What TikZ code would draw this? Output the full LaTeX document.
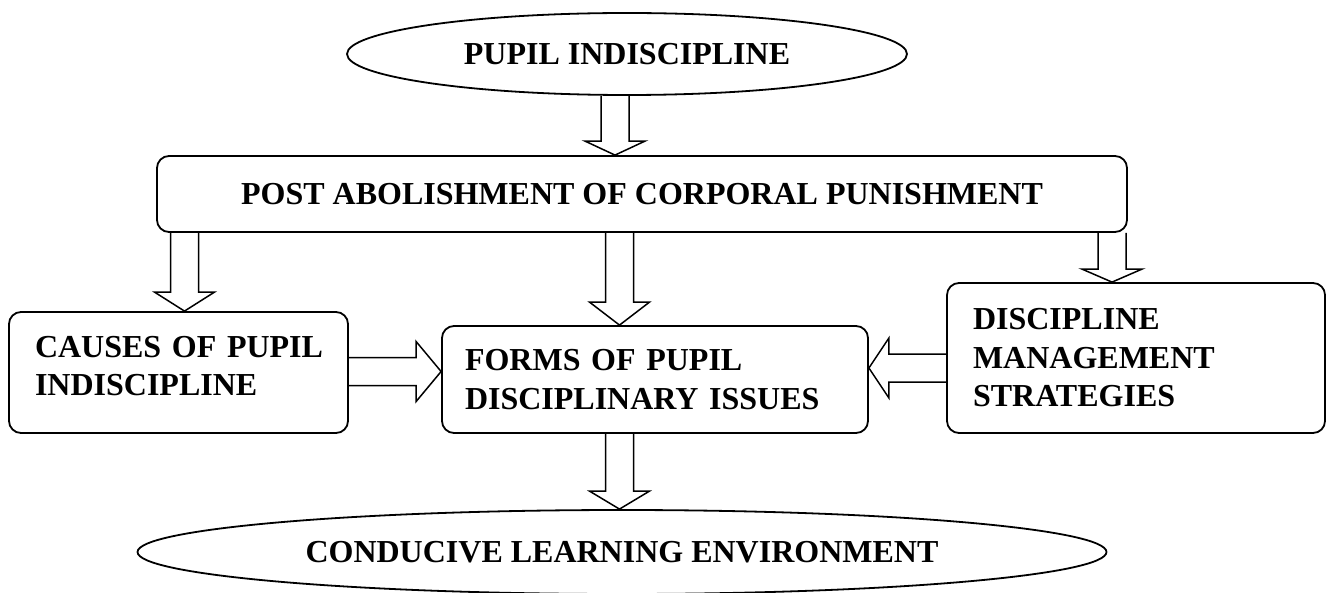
\documentclass[tikz,border=0pt]{standalone}
\usepackage{fontspec}
\setmainfont{Liberation Serif}
\usetikzlibrary{shapes.geometric,calc}

\tikzset{
  oval/.style={ellipse, draw, line width=0.9pt, inner sep=0pt},
  boxnode/.style={draw, rounded corners=6pt, line width=0.9pt, inner ysep=0pt},
  hollow/.style={line width=0.75pt, line join=miter},
}
% hollow block arrows: #1 start, #2 tip, #3 head length
\newcommand{\hollowdown}[3]{%
  \draw[hollow] let \p1=(#1), \p2=(#2) in
    (\x2-7pt,\y1) -- (\x2-7pt,\y2+#3) -- (\x2-15pt,\y2+#3) -- (\x2,\y2)
    -- (\x2+15pt,\y2+#3) -- (\x2+7pt,\y2+#3) -- (\x2+7pt,\y1);}
\newcommand{\hollowside}[3]{%
  \draw[hollow] let \p1=(#1), \p2=(#2), \n1={#3} in
    (\x1,\y2+7pt) -- (\x2-\n1,\y2+7pt) -- (\x2-\n1,\y2+15pt) -- (\x2,\y2)
    -- (\x2-\n1,\y2-15pt) -- (\x2-\n1,\y2-7pt) -- (\x1,\y2-7pt);}

\begin{document}
\begin{tikzpicture}[x=0.5pt, y=-0.5pt, font=\bfseries\fontsize{16}{19.25}\selectfont]
\useasboundingbox (0,0) rectangle (1331,593);
\node[oval, minimum width=280pt, minimum height=41pt] (pupil) at (627,54) {PUPIL INDISCIPLINE};
\node[boxnode, minimum width=485pt, minimum height=38pt] (post) at (642,194) {POST ABOLISHMENT OF CORPORAL PUNISHMENT};
\node[boxnode, inner xsep=13pt, text width=143.5pt, align=left, text depth=26pt, minimum height=60.5pt] (causes) at (178.5,372.5) {CAUSES~OF~PUPIL\\INDISCIPLINE};
\node[boxnode, inner xsep=11.5pt, text width=190pt, align=left, minimum height=53.5pt] (forms) at (655,379.5) {FORMS OF PUPIL\\DISCIPLINARY ISSUES};
\node[boxnode, inner xsep=13pt, text width=163pt, align=left, minimum height=75pt] (mgmt) at (1136,358) {DISCIPLINE\\MANAGEMENT\\STRATEGIES};
\node[oval, minimum width=484.5pt, minimum height=42pt] (env) at (622,552) {CONDUCIVE LEARNING ENVIRONMENT};

\hollowdown{pupil.south}{$(post.north)+(-27,0)$}{7pt}
\hollowdown{post.south}{$(causes.north)+(6,0)$}{9.5pt}
\hollowdown{post.south}{$(forms.north)+(-35.5,0)$}{11.5pt}
\hollowdown{post.south}{$(mgmt.north)+(-24,0)$}{6.5pt}
\hollowside{causes.east}{$(forms.west)+(0,-8)$}{12.5pt}
\hollowside{mgmt.west}{$(forms.east)+(0,-11.5)$}{-10pt}
\hollowdown{forms.south}{$(env.north)+(-2.5,0)$}{9pt}
\end{tikzpicture}
\end{document}
